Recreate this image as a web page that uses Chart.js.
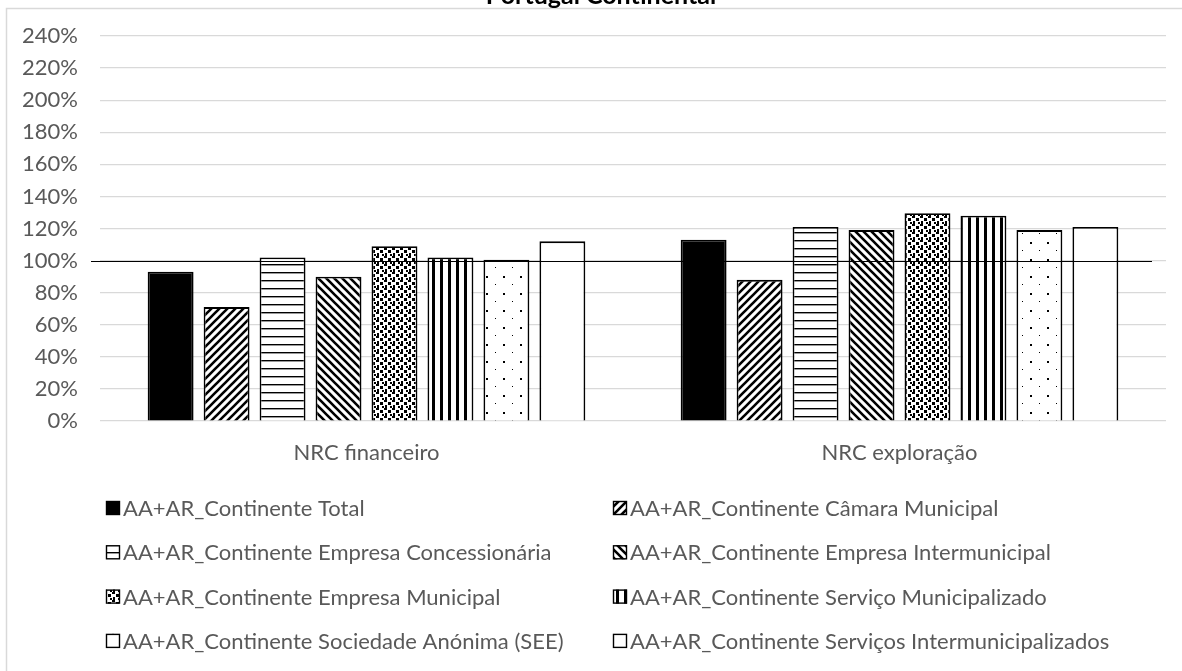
<!DOCTYPE html>
<html>
<head>
<meta charset="utf-8">
<script src="https://cdn.jsdelivr.net/npm/chart.js@4.4.0/dist/chart.umd.min.js"></script>
<style>
  body { margin: 0; background: #fff; }
  #chart { display: block; }
</style>
</head>
<body>
<canvas id="chart" width="1182" height="671"></canvas>
<script>
// categories and series (values in %)
const categories = ["NRC financeiro", "NRC exploração"];
const seriesNames = [
  "AA+AR_Continente Total",
  "AA+AR_Continente Câmara Municipal",
  "AA+AR_Continente Empresa Concessionária",
  "AA+AR_Continente Empresa Intermunicipal",
  "AA+AR_Continente Empresa Municipal",
  "AA+AR_Continente Serviço Municipalizado",
  "AA+AR_Continente Sociedade Anónima (SEE)",
  "AA+AR_Continente Serviços Intermunicipalizados"
];
const total = [93, 113];
const camaraMunicipal = [71, 88];
const empresaConcessionaria = [102, 121];
const empresaIntermunicipal = [90, 119];
const empresaMunicipal = [109, 129.5];
const servicoMunicipalizado = [102, 128];
const sociedadeAnonima = [100.5, 119];
const servicosIntermunicipalizados = [112, 121];
const referenceLevel = 100;
const chartTitle = "Portugal Continental";

const FONT = "Lato, 'Open Sans', sans-serif";
const TEXT = "#595959";

// pattern tiles
function tile(w, h, draw) {
  const c = document.createElement("canvas");
  c.width = w; c.height = h;
  const g = c.getContext("2d");
  g.fillStyle = "#fff";
  g.fillRect(0, 0, w, h);
  g.fillStyle = "#000";
  g.strokeStyle = "#000";
  draw(g);
  return g.createPattern(c, "repeat");
}

const solid = "#000";
const diagUp = tile(8, 8, g => {
  g.lineWidth = 2.6;
  g.beginPath();
  g.moveTo(-2, 10); g.lineTo(10, -2);
  g.moveTo(-6, 6); g.lineTo(6, -6);
  g.moveTo(2, 14); g.lineTo(14, 2);
  g.stroke();
});
const horiz = tile(8, 8, g => { g.fillRect(0, 0, 8, 1.4); });
const diagDown = tile(8, 8, g => {
  g.lineWidth = 2.6;
  g.beginPath();
  g.moveTo(-2, -2); g.lineTo(10, 10);
  g.moveTo(-6, 2); g.lineTo(6, 14);
  g.moveTo(2, -6); g.lineTo(14, 6);
  g.stroke();
});
const confetti = tile(8, 8, g => {
  g.fillRect(0, 0, 3, 2);
  g.fillRect(4, 2, 3, 3);
  g.fillRect(1, 5, 2, 3);
  g.fillRect(6, 6, 2, 2);
});
const vert = tile(8, 8, g => { g.fillRect(0, 0, 3, 8); });
const sparseDots = tile(17, 17, g => {
  g.fillRect(10, 4, 2, 2);
  g.fillRect(2, 12, 1, 1);
});
const white = "#fff";

const fills = [solid, diagUp, horiz, diagDown, confetti, vert, sparseDots, white];
const seriesData = [total, camaraMunicipal, empresaConcessionaria, empresaIntermunicipal,
  empresaMunicipal, servicoMunicipalizado, sociedadeAnonima, servicosIntermunicipalizados];

const datasets = seriesNames.map((name, i) => ({
  label: name,
  data: seriesData[i],
  backgroundColor: fills[i],
  borderColor: "#000",
  borderWidth: 1.8,
  categoryPercentage: 0.84,
  barPercentage: 0.82
}));

const frameAndTitle = {
  id: "frameAndTitle",
  beforeDraw(chart) {
    const ctx = chart.ctx;
    ctx.save();
    ctx.fillStyle = "#fff";
    ctx.fillRect(0, 0, chart.width, chart.height);
    ctx.strokeStyle = "#d9d9d9";
    ctx.lineWidth = 1.5;
    ctx.strokeRect(6.5, 8.5, chart.width + 20, chart.height + 20);
    ctx.fillStyle = "#000";
    ctx.font = "bold 25px " + FONT;
    ctx.textAlign = "center";
    ctx.textBaseline = "alphabetic";
    ctx.fillText(chartTitle, 601, 4);
    ctx.restore();
  }
};

const refLine = {
  id: "refLine",
  afterDatasetsDraw(chart) {
    const ctx = chart.ctx, a = chart.chartArea;
    const y = Math.round(chart.scales.y.getPixelForValue(referenceLevel)) + 0.5;
    ctx.save();
    ctx.strokeStyle = "#000";
    ctx.lineWidth = 1.2;
    ctx.beginPath();
    ctx.moveTo(a.left - 9, y);
    ctx.lineTo(a.right - 14, y);
    ctx.stroke();
    ctx.restore();
  }
};

const gridLegend = {
  id: "gridLegend",
  afterDraw(chart) {
    const ctx = chart.ctx, a = chart.chartArea;
    ctx.save();
    ctx.font = "22px " + FONT;
    ctx.textBaseline = "middle";
    ctx.textAlign = "left";
    chart.data.datasets.forEach((ds, i) => {
      const col = i % 2, row = Math.floor(i / 2);
      const x = a.left + 6 + col * 507;
      const y = a.bottom + 87 + row * 44.3;
      ctx.fillStyle = ds.backgroundColor;
      ctx.fillRect(x, y - 7, 14, 14);
      ctx.strokeStyle = "#000";
      ctx.lineWidth = 1.4;
      ctx.strokeRect(x + 0.5, y - 6.5, 13, 13);
      ctx.fillStyle = TEXT;
      ctx.fillText(ds.label, x + 17, y + 1);
    });
    ctx.restore();
  }
};

new Chart(document.getElementById("chart"), {
  type: "bar",
  data: { labels: categories, datasets },
  options: {
    responsive: false,
    animation: false,
    devicePixelRatio: 1,
    layout: { padding: { top: 36, right: 16, left: 0, bottom: 0 } },
    plugins: {
      legend: { display: false },
      title: { display: false },
      tooltip: { enabled: false }
    },
    scales: {
      x: {
        grid: { display: false, drawTicks: false },
        border: { display: false },
        ticks: { color: TEXT, font: { family: FONT, size: 22 }, padding: 19 },
        afterFit(s) { s.height = 250; }
      },
      y: {
        min: 0,
        max: 240,
        border: { display: false },
        grid: { color: "#d9d9d9", lineWidth: 1.2, drawTicks: false },
        ticks: {
          stepSize: 20,
          color: TEXT,
          font: { family: FONT, size: 22 },
          padding: 22,
          callback: v => v + "%"
        },
        afterFit(s) { s.width = 100; }
      }
    }
  },
  plugins: [frameAndTitle, refLine, gridLegend]
});
</script>
</body>
</html>
